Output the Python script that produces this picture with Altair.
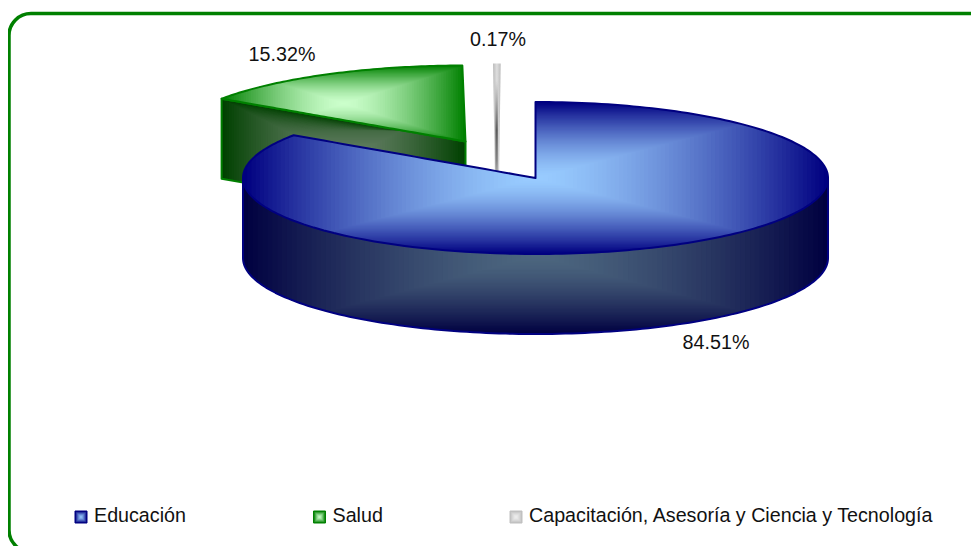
import numpy as np
import pandas as pd
import altair as alt

alt.data_transformers.disable_max_rows()

# ---- data ----
categories = ["Educación", "Salud", "Capacitación, Asesoría y Ciencia y Tecnología"]
shares = [84.51, 15.32, 0.17]
share_labels = ["84.51%", "15.32%", "0.17%"]

# ---- projection of the pseudo-3D pie (pixels) ----
W, H = 963, 538
CX, CY, RX, RY, DEPTH = 535.5, 178.0, 292.5, 76.0, 80.0
BLUE = ("#000080", "#99ccff", "#000040", "#4c667f")
GREEN = ("#008000", "#ccffcc", "#004000", "#668066")
GREY = ("#c0c0c0", "#f0f0f0")
RAMP = 1.5
a1 = shares[0] / 100 * 2 * np.pi
a2 = (shares[0] + shares[1]) / 100 * 2 * np.pi


def ex(a, cx=CX, rx=RX):
    return cx + rx * np.sin(a)


def ey(a, cy=CY, ry=RY):
    return cy - ry * np.cos(a)


def hex2rgb(h):
    return np.array([int(h[i:i + 2], 16) for i in (1, 3, 5)], float)


def mix(c0, c1, t):
    w = t ** RAMP
    v = hex2rgb(c0) * w + hex2rgb(c1) * (1 - w)
    return "#%02x%02x%02x" % tuple(int(round(q)) for q in v)


def rows(pieces, box, outer, inner, levels):
    """Nested clipped areas giving a rectangular path gradient over the piece box."""
    x0, x1, y0, y1 = box
    cx, cy, rx, ry = (x0 + x1) / 2, (y0 + y1) / 2, (x1 - x0) / 2, (y1 - y0) / 2
    out = []
    for k in range(levels):
        t = 1 - k / levels
        lo, hi, tp, bt = cx - t * rx, cx + t * rx, cy - t * ry, cy + t * ry
        col = mix(outer, inner, t)
        i = 0
        for px, ptop, pbot in pieces:
            a, b = max(lo, px[0]), min(hi, px[-1])
            if a > b:
                continue
            inside = px[(px > a) & (px < b)]
            xs = np.concatenate([[a], inside, [b]])
            ya = np.maximum(np.interp(xs, px, ptop), tp)
            yb = np.minimum(np.interp(xs, px, pbot), bt)
            for xv, u, v in zip(xs, ya, yb):
                if u <= v:
                    out.append({"x": round(float(xv) + i * 1e-4, 4), "y": round(float(u), 2),
                                "y2": round(float(v), 2), "c": col, "lv": k})
                    i += 1
    return pd.DataFrame(out)


def outline_rows(pieces):
    out, i = [], 0
    for px, ptop, pbot in pieces:
        for xv, u, v in zip(px, ptop, pbot):
            out.append({"x": float(xv) + i * 1e-4, "y": float(u), "y2": float(v)})
            i += 1
    return pd.DataFrame(out)


X = alt.X("x:Q", scale=alt.Scale(domain=[8, 8 + W], range=[0, W]), axis=None)
Y = alt.Y("y:Q", scale=alt.Scale(domain=[8, 8 + H], range=[0, H]), axis=None, stack=None)


def shaded(pieces, box, outer, inner, levels=50):
    return alt.Chart(rows(pieces, box, outer, inner, levels)).mark_area(
        clip=True, interpolate="linear"
    ).encode(X, Y, y2="y2:Q", color=alt.Color("c:N", scale=None), detail="lv:N")


def outline(pieces, stroke, width=2.0):
    return alt.Chart(outline_rows(pieces)).mark_area(
        fillOpacity=0, stroke=stroke, strokeWidth=width, strokeJoin="round", clip=True
    ).encode(X, Y, y2="y2:Q")


# ---- Educación ----
def line_y(x, x0, y0, x1, y1):
    return y0 + (x - x0) * (y1 - y0) / (x1 - x0)


left_a = np.linspace(1.5 * np.pi, a1, 30)
lx = ex(left_a)
rad_x = np.linspace(ex(a1), CX, 25)[1:]
p_x = np.concatenate([lx, rad_x])
p_top = np.concatenate([ey(left_a), line_y(rad_x, ex(a1), ey(a1), CX, CY)])
p_bot = CY + RY * np.sqrt(np.clip(1 - ((p_x - CX) / RX) ** 2, 0, 1))
right_a = np.linspace(0, np.pi / 2, 70)
r_x = ex(right_a)
r_top = ey(right_a)
r_bot = 2 * CY - r_top
blue_top = [(p_x, p_top, p_bot), (r_x, r_top, r_bot)]
blue_box = (CX - RX, CX + RX, CY - RY, CY + RY)

s_a = np.linspace(-np.pi / 2, np.pi / 2, 140)
s_x = ex(s_a)
s_bot = CY + RY * np.cos(s_a) + DEPTH
blue_side = [(s_x, np.full_like(s_x, CY), s_bot)]
blue_side_box = (CX - RX, CX + RX, CY, CY + RY + DEPTH)

# ---- Salud (pulled out of the pie) ----
SX, SY, SRX = 465.5, 141.5, 295.0
g_a = np.linspace(a1, a2, 70)
g_x = ex(g_a, SX, SRX)
g_y = ey(g_a, SY)
g_top_x = np.concatenate([g_x, [SX]])
g_top_y = np.concatenate([g_y, [SY]])
g_bot_y = line_y(g_top_x, g_x[0], g_y[0], SX, SY)
green_top = [(g_top_x, g_top_y, g_bot_y)]
green_box = (g_x[0], SX, g_y[-1], SY)

f_x = np.array([g_x[0], SX])
f_top = np.array([g_y[0], SY])
green_face = [(f_x, f_top, f_top + DEPTH)]
green_face_box = (g_x[0], SX, g_y[0], SY + DEPTH)

# ---- Capacitación (pulled out of the pie, seen nearly edge-on) ----
GX, GY = 497.0, 141.0
g_top_edge = ey(0.0, GY) - 1.5
g_bot_edge = GY + 39.0
sl_x = np.array([GX - 4.0, GX - 2.0, GX + 2.0, GX + 3.7])
sl_top = np.full(4, g_top_edge)
sl_bot = np.array([g_top_edge + 0.1, g_bot_edge, g_bot_edge, g_top_edge + 0.1])
core_x = np.array([GX - 1.6, GX + 0.8])
core_top = np.full(2, GY - 60.0)
core_bot = np.full(2, g_bot_edge)

grey_sliver = alt.Chart(outline_rows([(sl_x, sl_top, sl_bot)])).mark_area(
    clip=True,
    color=alt.Gradient(gradient="linear", x1=0, x2=1, y1=0, y2=0,
                       stops=[alt.GradientStop(color="#bcbcbc", offset=0),
                              alt.GradientStop(color="#dedede", offset=0.5),
                              alt.GradientStop(color="#bcbcbc", offset=1)])
).encode(X, Y, y2="y2:Q")
grey_core = alt.Chart(outline_rows([(core_x, core_top, core_bot)])).mark_area(
    clip=True,
    color=alt.Gradient(gradient="linear", x1=0, x2=0, y1=0, y2=1,
                       stops=[alt.GradientStop(color="rgba(110,110,110,0)", offset=0),
                              alt.GradientStop(color="rgba(90,90,90,1)", offset=0.5),
                              alt.GradientStop(color="rgba(120,120,120,0.9)", offset=0.8),
                              alt.GradientStop(color="rgba(150,150,150,0.5)", offset=1)])
).encode(X, Y, y2="y2:Q")

# ---- frame ----
frame = alt.Chart(pd.DataFrame({"x": [9.0], "x2": [993.0], "y": [13.5], "y2": [552.0]})).mark_rect(
    filled=False, stroke="#008000", strokeWidth=3.5, cornerRadius=22, clip=True
).encode(X, Y, x2="x2:Q", y2="y2:Q")

# ---- labels ----
lab = pd.DataFrame({"x": [716, 282, 498], "y": [349, 61, 46], "t": share_labels})
labels = alt.Chart(lab).mark_text(
    font="Liberation Sans", fontSize=19.7, color="#111111", align="center", baseline="alphabetic"
).encode(X, Y, text="t:N")

# ---- legend ----
leg_x = [75.0, 313.5, 510.0]
leg_y = 511.0
leg_size = 12.0
leg_cols = [BLUE[:2], GREEN[:2], GREY]
leg_strokes = ["#000080", "#008000", "#c0c0c0"]
leg_layers = []
for lx0, cc, st in zip(leg_x, leg_cols, leg_strokes):
    px = np.array([lx0, lx0 + leg_size])
    pc = [(px, np.full(2, leg_y), np.full(2, leg_y + leg_size))]
    leg_layers.append(shaded(pc, (lx0, lx0 + leg_size, leg_y, leg_y + leg_size), cc[0], cc[1], 7))
    leg_layers.append(outline(pc, st, 1.0))
leg_text = alt.Chart(pd.DataFrame({"x": [x + 19 for x in leg_x], "y": [521.5] * 3, "t": categories})).mark_text(
    font="Liberation Sans", fontSize=19.7, color="#111111", align="left", baseline="alphabetic"
).encode(X, Y, text="t:N")

chart = alt.layer(
    frame,
    shaded(green_face, green_face_box, GREEN[2], GREEN[3]),
    outline(green_face, "#008000"),
    shaded(green_top, green_box, GREEN[0], GREEN[1]),
    outline(green_top, "#008000"),
    grey_sliver,
    grey_core,
    shaded(blue_side, blue_side_box, BLUE[2], BLUE[3], 60),
    outline(blue_side, "#000080"),
    shaded(blue_top, blue_box, BLUE[0], BLUE[1], 70),
    outline(blue_top, "#000080"),
    labels,
    *leg_layers,
    leg_text,
).properties(width=W, height=H, padding=0, background="white",
             autosize=alt.AutoSizeParams(type="none")
).configure_view(stroke=None)

chart.save("out.html", embed_options={"renderer": "svg", "actions": False})
